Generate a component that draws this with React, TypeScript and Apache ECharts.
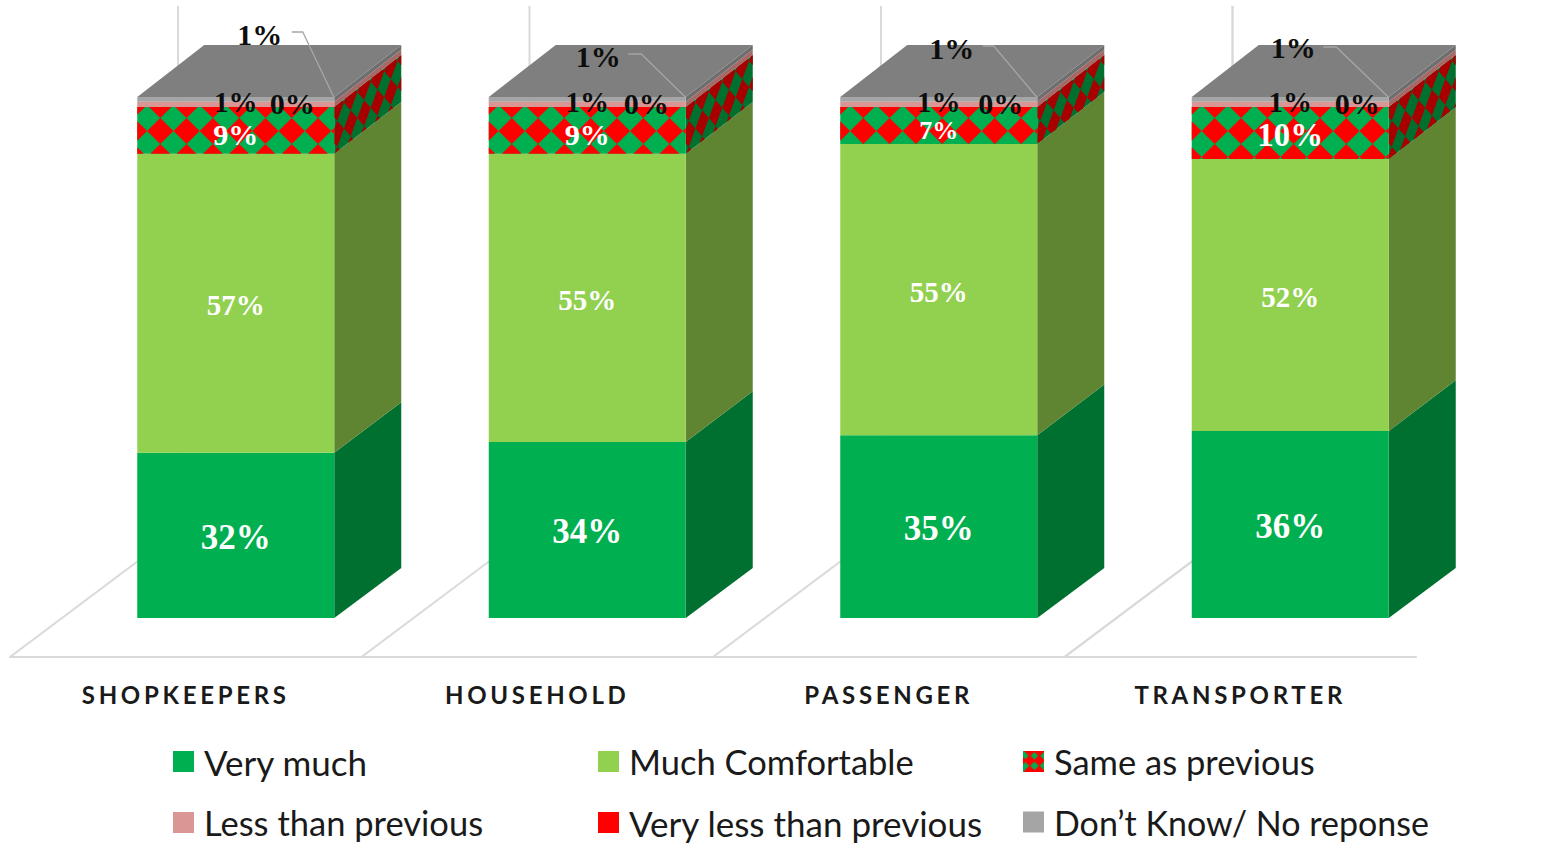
import React, { useEffect, useRef } from "react";
import * as echarts from "echarts";

// ---- data ----
const categories = ["SHOPKEEPERS", "HOUSEHOLD", "PASSENGER", "TRANSPORTER"];
const seriesNames = ["Very much", "Much Comfortable", "Same as previous", "Less than previous", "Very less than previous", "Don’t Know/ No reponse"];
const veryMuch = [31.7, 33.8, 35.1, 35.9];
const muchComfortable = [57.4, 55.3, 55.9, 52.2];
const sameAsPrevious = [9, 9, 7.1, 10];
const lessThanPrevious = [1, 1, 1, 1];
const veryLessThanPrevious = [0, 0, 0, 0];
const dontKnow = [0.9, 0.9, 0.9, 0.9];
const veryMuchLabels = ["32%", "34%", "35%", "36%"];
const muchComfortableLabels = ["57%", "55%", "55%", "52%"];
const sameLabels = ["9%", "9%", "7%", "10%"];
const lessLabels = ["1%", "1%", "1%", "1%"];
const veryLessLabels = ["0%", "0%", "0%", "0%"];
const dontKnowLabels = ["1%", "1%", "1%", "1%"];

const allValues = [veryMuch, muchComfortable, sameAsPrevious, lessThanPrevious, veryLessThanPrevious, dontKnow];
const allLabels = [veryMuchLabels, muchComfortableLabels, sameLabels, lessLabels, veryLessLabels, dontKnowLabels];

// ---- styling and layout ----
const frontColors = ["#00B050", "#92D050", "#00B050", "#DA9694", "#FF0000", "#A5A5A5"];
const sideColors = ["#007030", "#5F8533", "#00702F", "#A56A68", "#A00000", "#6E6E6E"];
const TOP_COLOR = "#7F7F7F";
const PATTERN_RED = "#FF0000";
const PATTERN_SIDE_RED = "#A80000";
const LINE = "#D9D9D9";
const DEPTH_X = 67;
const BAR_OFFSET = 50;
const BAR_WIDTH = 197;
const FONT = "'Liberation Serif', serif";
const labelFonts = [35, 29, 30, 29, 30, 30];
const labelDy = [2, 2, 3, 0, 0, 0];
const sameFonts = [30, 30, 26, 33];
const sameDy = [4, 4, 5.5, 2];
const zeroLabelDx = [56.5, 59, 62, 67];
const topLabelPos = [[24, -63], [11, -41], [13, -49], [3, -50]];
const leaderPts = [
  [[56, -65], [67, -65], [98, 0]],
  [[41, -43], [54, -43], [98, 0]],
  [[44, -51], [55, -51], [98, 0]],
  [[33, -50], [46, -50], [98, 0]],
];
const legendFonts = [35, 34.5, 34.5, 34.5, 35, 34];

// side faces converge slightly: 50px of rise at the floor, 52px at the top
const depthY = (share: number) => 50 + (2 * share) / 100;

type P = [number, number];
function clip(poly: P[], x0: number, x1: number, y0: number, y1: number): P[] {
  const edge = (pts: P[], inside: (p: P) => boolean, cross: (a: P, b: P) => P) => {
    const out: P[] = [];
    pts.forEach((p, i) => {
      const q = pts[(i + 1) % pts.length];
      const a = inside(p), b = inside(q);
      if (a) out.push(p);
      if (a !== b) out.push(cross(p, q));
    });
    return out;
  };
  const atX = (x: number) => (a: P, b: P): P => [x, a[1] + ((b[1] - a[1]) * (x - a[0])) / (b[0] - a[0])];
  const atY = (y: number) => (a: P, b: P): P => [a[0] + ((b[0] - a[0]) * (y - a[1])) / (b[1] - a[1]), y];
  let r = edge(poly, (p) => p[0] >= x0, atX(x0));
  if (r.length) r = edge(r, (p) => p[0] <= x1, atX(x1));
  if (r.length) r = edge(r, (p) => p[1] >= y0, atY(y0));
  if (r.length) r = edge(r, (p) => p[1] <= y1, atY(y1));
  return r;
}

// Diamonds of the "same as previous" hatch inside a face, as polygons
function diamonds(left: number, right: number, top: number, bottom: number, px: number, py: number, ax: number, ay: number, map: (p: P) => P, fill: string) {
  const out: any[] = [];
  for (let i = Math.floor((left - ax) / px) - 1; ax + i * px < right + px; i++) {
    for (let j = Math.floor((top - ay) / py) - 1; ay + j * py < bottom + py; j++) {
      const cx = ax + i * px, cy = ay + j * py;
      const d: P[] = [[cx - px / 2, cy], [cx, cy - py / 2], [cx + px / 2, cy], [cx, cy + py / 2]];
      const c = clip(d, left, right, top, bottom);
      if (c.length > 2) out.push({ type: "polygon", silent: true, shape: { points: c.map(map) }, style: { fill } });
    }
  }
  return out;
}

function makeSeries(si: number) {
  const rows = categories.map((_, c) => {
    let start = 0;
    for (let k = 0; k < si; k++) start += allValues[k][c];
    return [c, start, start + allValues[si][c]];
  });
  return {
    type: "custom",
    name: seriesNames[si],
    coordinateSystem: "cartesian2d",
    encode: { x: 0, y: [1, 2] },
    itemStyle: { color: frontColors[si] },
    clip: false,
    silent: true,
    data: rows,
    renderItem: (_: any, api: any) => {
      const c = api.value(0);
      const startV = api.value(1), endV = api.value(2);
      const base = api.coord([c, startV]);
      const end = api.coord([c, endV]);
      const mid = base[0] + BAR_OFFSET;
      const l = mid - BAR_WIDTH / 2, r = mid + BAR_WIDTH / 2;
      const yB = base[1], yT = end[1];
      const dB = depthY(startV), dT = depthY(endV);
      const children: any[] = [];
      if (yB - yT > 0.01) {
        children.push({ type: "polygon", shape: { points: [[r, yB], [r + DEPTH_X, yB - dB], [r + DEPTH_X, yT - dT], [r, yT]] }, style: { fill: sideColors[si] } });
        if (si === 2) {
          const slope = dT / DEPTH_X;
          children.push(...diamonds(0, DEPTH_X, yT, yB, 13.4, 26, 3, 110, (p) => [r + p[0], p[1] - p[0] * slope], PATTERN_SIDE_RED));
        }
        children.push({ type: "rect", shape: { x: l, y: yT, width: BAR_WIDTH, height: yB - yT }, style: { fill: frontColors[si] } });
        if (si === 2) {
          children.push(...diamonds(l, r, yT, yB, 26.3, 26, l + 23, 105, (p) => p, PATTERN_RED));
        }
      }
      if (si === 5) {
        children.push({ type: "polygon", shape: { points: [[l, yT], [r, yT], [r + DEPTH_X, yT - dT], [l + DEPTH_X, yT - dT]] }, style: { fill: TOP_COLOR } });
      }
      // label
      let tx = mid, ty = (yT + yB) / 2 + labelDy[si];
      let size = labelFonts[si];
      if (si === 2) { ty = (yT + yB) / 2 + sameDy[c]; size = sameFonts[c]; }
      if (si === 3) ty = yT + 0.5;
      if (si === 4) { tx = mid + zeroLabelDx[c]; ty = yT + 2; }
      if (si === 5) {
        tx = mid + topLabelPos[c][0];
        ty = yT + topLabelPos[c][1];
        children.push({
          type: "polyline", z2: 90,
          shape: { points: leaderPts[c].map((p) => [mid + p[0], yT + p[1]]) },
          style: { stroke: "#A6A6A6", lineWidth: 1.3, fill: "none" },
        });
      }
      children.push({
        type: "text", z2: 100 + si,
        style: {
          text: allLabels[si][c], x: tx, y: ty, align: "center", verticalAlign: "middle", textAlign: "center", textVerticalAlign: "middle",
          font: `bold ${size}px ${FONT}`, fill: si >= 3 ? "#0D0D0D" : "#FFFFFF",
        },
      });
      return { type: "group", children };
    },
  };
}

// Floor diagonals and the back-wall verticals
const floorSeries = {
  type: "custom",
  name: "floor",
  coordinateSystem: "cartesian2d",
  encode: { x: 0, y: 1 },
  clip: false,
  silent: true,
  z: 1,
  data: [[0, 0], [1, 0], [2, 0], [3, 0], [3, 0, 1]],
  renderItem: (_: any, api: any) => {
    const base = api.coord([api.value(0), 0]);
    const slot = api.size([1, 0])[0];
    const x = base[0] + (api.value(2) === 1 ? slot / 2 : -slot / 2);
    const y = base[1] + 39;
    const backX = x + 168, backY = y - 126;
    return {
      type: "group",
      children: [
        { type: "line", shape: { x1: x, y1: y, x2: backX, y2: backY }, style: { stroke: LINE, lineWidth: 2 } },
        { type: "line", shape: { x1: backX, y1: backY, x2: backX, y2: 6 }, style: { stroke: LINE, lineWidth: 2 } },
      ],
    };
  },
};

function hatchIcon() {
  const cv = document.createElement("canvas");
  cv.width = 22; cv.height = 22;
  const g = cv.getContext("2d")!;
  g.fillStyle = "#00B050"; g.fillRect(0, 0, 22, 22);
  g.fillStyle = PATTERN_RED;
  [[-2, 10], [7, 10], [17, 10], [7, 0], [17, 0], [7, 21], [17, 21]].forEach(([x, y]) => {
    g.beginPath();
    g.moveTo(x - 6, y); g.lineTo(x, y - 6); g.lineTo(x + 6, y); g.lineTo(x, y + 6);
    g.closePath(); g.fill();
  });
  return cv.toDataURL("image/png");
}

const legendLeft = [173, 598, 1023];
const legendTop = [744, 805];

export default function App() {
  const ref = useRef<HTMLDivElement>(null);
  useEffect(() => {
    document.body.style.margin = "0";
    const chart = echarts.init(ref.current!, undefined, { renderer: "svg" });
    const icon = hatchIcon();
    const spaceCategoryLabels = () => {
      ref.current?.querySelectorAll("text").forEach((t) => {
        if (categories.includes((t.textContent || "").trim())) (t as any).style.letterSpacing = "3.7px";
      });
    };
    chart.on("finished", spaceCategoryLabels);
    chart.setOption({
      animation: false,
      backgroundColor: "#FFFFFF",
      grid: { left: 10, width: 1406, top: 97, height: 521 },
      xAxis: {
        type: "category",
        data: categories,
        offset: 39,
        axisTick: { show: false },
        axisLine: { show: true, onZero: false, lineStyle: { color: LINE, width: 2 } },
        axisLabel: { interval: 0, margin: 25, color: "#1A1A1A", fontFamily: "Lato", fontWeight: "bold", fontSize: 24 },
        splitLine: { show: false },
      },
      yAxis: { type: "value", min: 0, max: 100, show: false, splitLine: { show: false } },
      legend: seriesNames.map((name, i) => ({
        left: legendLeft[i % 3],
        top: legendTop[Math.floor(i / 3)],
        itemWidth: 21,
        itemHeight: 21,
        selectedMode: false,
        padding: 0,
        data: [{ name, icon: i === 2 ? "image://" + icon : "rect" }],
        textStyle: { fontFamily: "Lato", fontSize: legendFonts[i], color: "#1A1A1A", padding: [0, 0, 0, 5] },
      })),
      series: [floorSeries, ...seriesNames.map((_, i) => makeSeries(i))],
    });
    spaceCategoryLabels();
    return () => chart.dispose();
  }, []);
  return (
    <div style={{ position: "fixed", left: 0, top: 0, width: 1566, height: 843, overflow: "hidden" }}>
      <div ref={ref} style={{ width: 1566, height: 843 }} />
    </div>
  );
}
